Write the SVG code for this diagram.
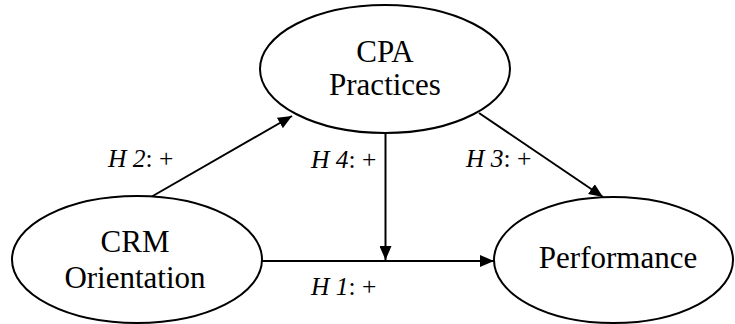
<svg xmlns="http://www.w3.org/2000/svg" width="735" height="324" viewBox="0 0 735 324">
<defs>
<marker id="ah" viewBox="0 0 14 12" refX="14" refY="6" markerWidth="14" markerHeight="12" markerUnits="userSpaceOnUse" orient="auto">
<path d="M0,0 L14,6 L0,12 Z" fill="#000"/>
</marker>
<style>
.node{fill:#fff;stroke:#000;stroke-width:2}
.nt{font-family:"Liberation Serif","Times New Roman",serif;font-size:31px;fill:#000;text-anchor:middle}
.lb{font-family:"Liberation Serif","Times New Roman",serif;font-size:25.5px;fill:#000}
.it{font-style:italic}
.edge{stroke:#000;stroke-width:2;fill:none;marker-end:url(#ah)}
</style>
</defs>
<rect width="735" height="324" fill="#fff"/>
<g id="connectors">
<line class="edge" x1="151" y1="197" x2="292" y2="116"/>
<line class="edge" x1="479" y1="113" x2="603" y2="197"/>
<line class="edge" x1="385.5" y1="133" x2="385.5" y2="260"/>
<line class="edge" x1="262" y1="261" x2="494" y2="261"/>
<text class="lb" x="108" y="167"><tspan class="it">H 2</tspan>: +</text>
<text class="lb" x="311" y="168"><tspan class="it">H 4</tspan>: +</text>
<text class="lb" x="466" y="167"><tspan class="it">H 3</tspan>: +</text>
<text class="lb" x="311" y="295"><tspan class="it">H 1</tspan>: +</text>
</g>
<g id="cpa">
<ellipse class="node" cx="385" cy="69" rx="125" ry="64"/>
<text class="nt" x="385" y="62">CPA</text>
<text class="nt" x="385" y="95">Practices</text>
</g>
<g id="crm">
<ellipse class="node" cx="137" cy="259.5" rx="125" ry="63.5"/>
<text class="nt" x="135" y="252">CRM</text>
<text class="nt" x="135" y="288">Orientation</text>
</g>
<g id="performance">
<ellipse class="node" cx="613.5" cy="260" rx="119.5" ry="63"/>
<text class="nt" x="618" y="268">Performance</text>
</g>
</svg>
